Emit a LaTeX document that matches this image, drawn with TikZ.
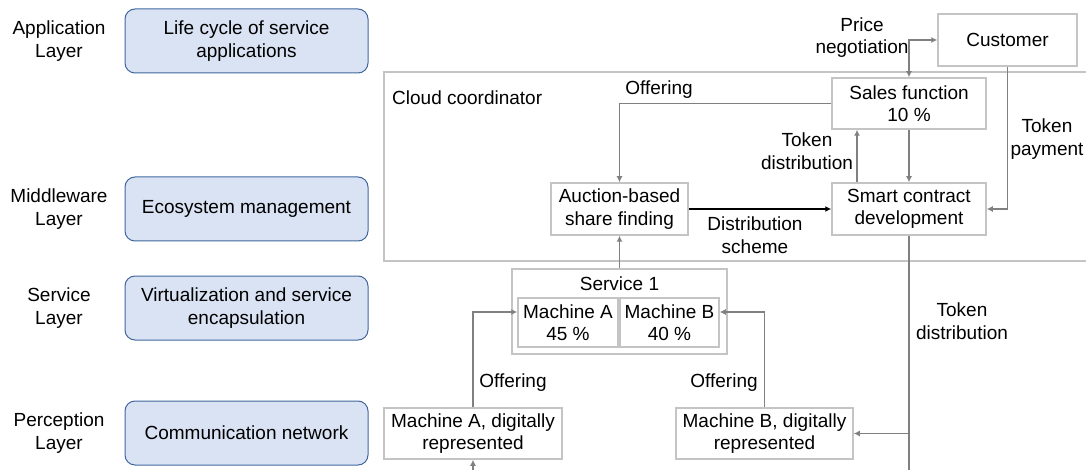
\documentclass[tikz,border=0pt]{standalone}
\usepackage{fontspec}
\setmainfont{Liberation Sans}
\usetikzlibrary{positioning, arrows.meta}
\definecolor{layerfill}{HTML}{DAE3F3}
\definecolor{layerdraw}{HTML}{41679E}
\definecolor{boxdraw}{HTML}{C4C4C4}
\definecolor{linegray}{HTML}{808080}
\begin{document}
\begin{tikzpicture}[x=1pt, y=-1pt,
  every node/.style={align=center, inner sep=0pt, font=\fontsize{19}{22.5}\selectfont},
  layer/.style={draw=layerdraw, line width=1pt, fill=layerfill, rounded corners=10pt, minimum width=243pt, minimum height=64pt},
  box/.style={draw=boxdraw, line width=1.5pt, fill=white},
  flow/.style={draw=linegray, line width=1.5pt, -{Latex[length=6pt,width=6pt]}}]

  \useasboundingbox (0,0) rectangle (1086,470);

  % Layers
  \node (applab) at (59,41) {Application\\Layer};
  \node (midlab) at (59,209) {Middleware\\Layer};
  \node (servlab) at (59,308) {Service\\Layer};
  \node (perclab) at (59,433) {Perception\\Layer};
  \node[layer] (app) at (246.5,41) {Life cycle of service\\applications};
  \node[layer] (mid) at (246.5,209) {Ecosystem management};
  \node[layer] (serv) at (246.5,308) {Virtualization and service\\encapsulation};
  \node[layer] (perc) at (246.5,433) {Communication network};

  % Cloud coordinator
  \draw[boxdraw, line width=1.5pt] (1086,72) -- (384,72) -- (384,261) -- (1086,261);
  \node[anchor=west] (cloud) at (392,98) {Cloud coordinator};

  % Nodes
  \node[box, minimum width=139pt, minimum height=52pt] (customer) at (1007.5,40) {Customer};
  \node[box, minimum width=154pt, minimum height=51pt] (sales) at (909,103.5) {Sales function\\10 \%};
  \node[box, minimum width=154pt, minimum height=52pt] (smart) at (909,209) {Smart contract\\development};
  \node[box, minimum width=137pt, minimum height=52pt] (auction) at (619.5,209) {Auction-based\\share finding};
  \node[box, minimum width=215pt, minimum height=85pt] (service) at (619.5,311.5) {};
  \node (servtitle) at (619.5,284) {Service 1};
  \node[box, minimum width=100pt, minimum height=49pt] (macha) at (568,322.5) {Machine A\\45 \%};
  \node[box, minimum width=99pt, minimum height=49pt] (machb) at (669.5,322.5) {Machine B\\40 \%};
  \node[box, minimum width=178pt, minimum height=51pt] (digita) at (473,433.5) {Machine A, digitally\\represented};
  \node[box, minimum width=177pt, minimum height=51pt] (digitb) at (764.5,433.5) {Machine B, digitally\\represented};
  \coordinate (abottom) at (473,472);
  \coordinate (tbottom) at (909,472);

  % Arrows
  \draw[flow] (sales.west) -| (auction.north);
  \node (offer1) at (659,90) {Offering};
  \draw[flow, {Latex[length=6pt,width=6pt]}-{Latex[length=6pt,width=6pt]}] (sales.north) |- (customer.west);
  \node (price) at (862,37.5) {Price\\negotiation};
  \draw[flow] ([xshift=-52pt]smart.north) -- ([xshift=-52pt]sales.south);
  \node (tokdist1) at (807,151) {Token\\distribution};
  \draw[flow] (sales.south) -- (smart.north);
  \draw[flow] (customer.south) |- (smart.east);
  \node (tokpay) at (1047,139) {Token\\payment};
  \draw[line width=1.5pt, -{Latex[length=6pt,width=6pt]}] (auction.east) -- (smart.west);
  \node (scheme) at (755,235) {Distribution\\scheme};
  \draw[flow] (service.north) -- (auction.south);
  \draw[flow] (digita.north) |- ([yshift=10.5pt]macha.west);
  \node (offer2) at (513,383) {Offering};
  \draw[flow] (digitb.north) |- ([yshift=10.5pt]machb.east);
  \node (offer3) at (724,383) {Offering};
  \draw[flow] (abottom) -- (digita.south);
  \draw[flow, -] (smart.south) -- (tbottom);
  \draw[flow] (smart.south |- digitb.east) -- (digitb.east);
  \node (tokdist2) at (962,321) {Token\\distribution};

\end{tikzpicture}
\end{document}
